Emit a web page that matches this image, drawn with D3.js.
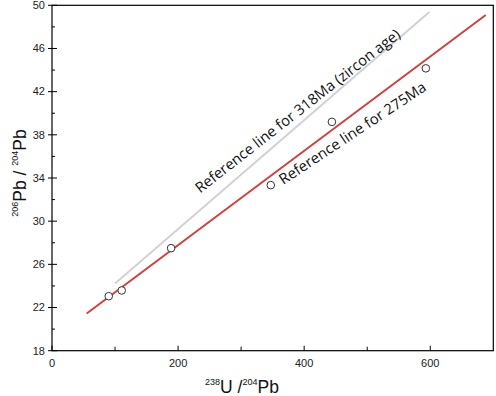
<!DOCTYPE html>
<html>
<head>
<meta charset="utf-8">
<script src="https://cdn.jsdelivr.net/npm/d3@7"></script>
<style>
  body { margin: 0; background: #fff; }
  svg { display: block; }
  .tick-label { font-family: "Liberation Sans", Arial, sans-serif; font-size: 11px; fill: #222; }
  .axis-title { font-family: "Liberation Sans", Arial, sans-serif; fill: #111; }
  .note { font-family: "Open Sans", sans-serif; font-size: 14.8px; fill: #111; }
</style>
</head>
<body>
<div id="chart"></div>
<script>
// 238U/204Pb vs 206Pb/204Pb isochron plot

// samples
const uPb = [90, 110.6, 188.9, 347, 444, 593];
const pbPb = [23.05, 23.58, 27.5, 33.34, 39.2, 44.16];

// reference lines (endpoints)
const refX275 = [55, 688];
const refY275 = [21.45, 49.1];
const refX318 = [100, 599];
const refY318 = [24.23, 49.4];

const xTicks = [0, 200, 400, 600];
const xMinor = [100, 300, 500];
const yTicks = [18, 22, 26, 30, 34, 38, 42, 46, 50];
const yMinor = [20, 24, 28, 32, 36, 40, 44, 48];

const W = 496, H = 396;
const m = { top: 5.3, right: 2.7, bottom: 45.3, left: 52 };
const w = W - m.left - m.right;
const h = H - m.top - m.bottom;

const svg = d3.select('#chart').append('svg')
    .attr('width', W).attr('height', H);
const g = svg.append('g').attr('transform', `translate(${m.left},${m.top})`);

const x = d3.scaleLinear().domain([0, 700]).range([0, w]);
const y = d3.scaleLinear().domain([18, 50]).range([h, 0]);

// Frame
g.append('rect')
    .attr('width', w).attr('height', h)
    .attr('fill', 'none').attr('stroke', '#000').attr('stroke-width', 1.2);

// Y ticks
yTicks.forEach(t => {
    g.append('line').attr('x1', -4).attr('x2', 5)
        .attr('y1', y(t)).attr('y2', y(t))
        .attr('stroke', '#000');
    g.append('text').attr('class', 'tick-label')
        .attr('x', -7).attr('y', y(t)).attr('dy', '0.35em')
        .attr('text-anchor', 'end').text(t);
});
yMinor.forEach(t => {
    g.append('line').attr('x1', 0).attr('x2', 3)
        .attr('y1', y(t)).attr('y2', y(t))
        .attr('stroke', '#000');
});

// X ticks
xTicks.forEach(t => {
    g.append('line').attr('x1', x(t)).attr('x2', x(t))
        .attr('y1', h).attr('y2', h - 5)
        .attr('stroke', '#000');
    g.append('text').attr('class', 'tick-label')
        .attr('x', x(t)).attr('y', h + 16)
        .attr('text-anchor', 'middle').text(t);
});
xMinor.forEach(t => {
    g.append('line').attr('x1', x(t)).attr('x2', x(t))
        .attr('y1', h).attr('y2', h - 4)
        .attr('stroke', '#000');
});

// Reference lines
g.append('line')
    .attr('x1', x(refX318[0])).attr('y1', y(refY318[0]))
    .attr('x2', x(refX318[1])).attr('y2', y(refY318[1]))
    .attr('stroke', '#d2d2d2').attr('stroke-width', 2);

g.append('line')
    .attr('x1', x(refX275[0])).attr('y1', y(refY275[0]))
    .attr('x2', x(refX275[1])).attr('y2', y(refY275[1]))
    .attr('stroke', '#d23f3f').attr('stroke-width', 2);

// Points
g.selectAll('.pt')
    .data(uPb.map((d, i) => [d, pbPb[i]]))
    .enter()
    .append('circle')
    .attr('cx', d => x(d[0]))
    .attr('cy', d => y(d[1]))
    .attr('r', 3.8)
    .attr('fill', '#fff')
    .attr('stroke', '#333')
    .attr('stroke-width', 1);

// Annotations
g.append('text').attr('class', 'note')
    .attr('transform', `translate(${x(235)},${y(32.55)}) rotate(-38)`)
    .text('Reference line for 318Ma (zircon age)');

g.append('text').attr('class', 'note')
    .attr('transform', `translate(${x(367)},${y(33.35)}) rotate(-33.5)`)
    .text('Reference line for 275Ma');

// Axis titles
const xt = svg.append('text').attr('class', 'axis-title')
    .attr('x', 242).attr('y', 392.5)
    .attr('text-anchor', 'middle');
xt.append('tspan').attr('font-size', 9).attr('dy', -8).text('238');
xt.append('tspan').attr('font-size', 17.5).attr('dy', 8).text('U /');
xt.append('tspan').attr('font-size', 9).attr('dy', -8).text('204');
xt.append('tspan').attr('font-size', 17.5).attr('dy', 8).text('Pb');

const yt = svg.append('text').attr('class', 'axis-title')
    .attr('transform', 'translate(26,173) rotate(-90)')
    .attr('text-anchor', 'middle');
yt.append('tspan').attr('font-size', 9).attr('dy', -8).text('206');
yt.append('tspan').attr('font-size', 17.5).attr('dy', 8).text('Pb  /  ');
yt.append('tspan').attr('font-size', 9).attr('dy', -8).text('204');
yt.append('tspan').attr('font-size', 17.5).attr('dy', 8).text('Pb');
</script>
</body>
</html>
